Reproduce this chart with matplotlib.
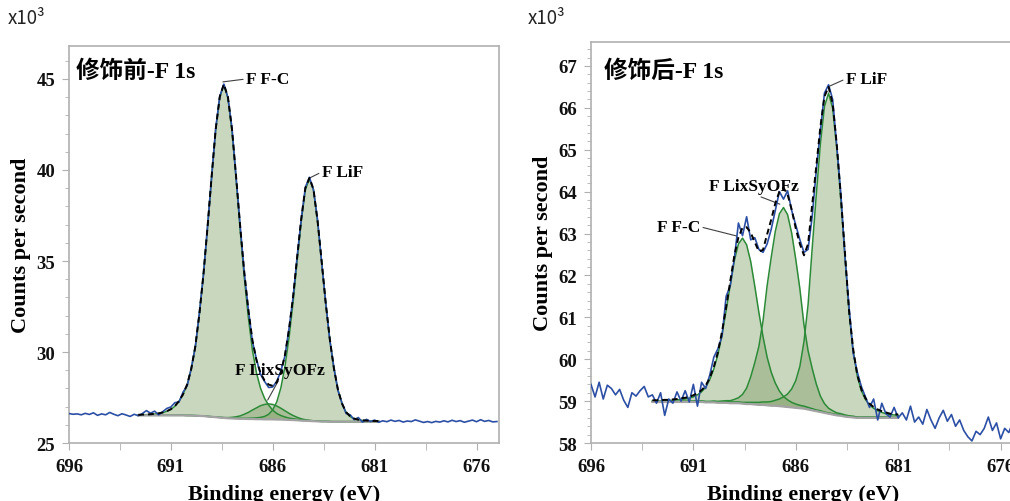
import numpy as np
import matplotlib
matplotlib.use('Agg')
import matplotlib.pyplot as plt
from matplotlib.ticker import MultipleLocator

plt.rcParams['font.family'] = ['Liberation Serif', 'Noto Sans CJK SC']
plt.rcParams['font.weight'] = 'bold'

# ---------------- data: before modification (left) ----------------
left_e_raw = np.round(696.0 - 0.2 * np.arange(106), 1)
left_raw = [26.62, 26.58, 26.60, 26.55, 26.63, 26.57, 26.66, 26.52, 26.60, 26.55,
            26.68, 26.58, 26.50, 26.61, 26.54, 26.46, 26.58,
            26.50, 26.62, 26.78, 26.64, 26.75, 26.55, 26.72, 26.90, 26.98, 27.22,
            27.25, 27.80, 28.15, 29.10, 30.28, 32.15, 34.25, 36.90, 39.60, 42.28,
            44.05, 44.72, 43.98, 42.30, 39.60, 36.95, 34.38, 32.36, 30.60, 29.60,
            28.78, 28.38, 28.05, 28.08, 28.40, 28.95, 29.80, 31.30, 33.02, 35.28,
            37.30, 39.05, 39.60, 38.90, 37.25, 34.92, 32.70, 30.65, 29.15, 27.88,
            27.20, 26.62, 26.55, 26.28, 26.40, 26.15, 26.30, 26.18, 26.26, 26.14,
            26.22, 26.17, 26.26, 26.19, 26.24, 26.15, 26.21, 26.18, 26.27, 26.20,
            26.13, 26.18, 26.12, 26.19, 26.15, 26.22, 26.16, 26.25, 26.18, 26.23,
            26.14, 26.20, 26.26, 26.17, 26.28, 26.19, 26.24, 26.16, 26.18]

left_e_fit = np.round(692.6 - 0.2 * np.arange(60), 1)
left_bg = [26.52] * 11 + [26.52, 26.51, 26.51, 26.50,
           26.49, 26.48, 26.46, 26.44, 26.42, 26.40, 26.38, 26.36, 26.35, 26.34, 26.33,
           26.33, 26.32, 26.32, 26.31, 26.31, 26.30, 26.30, 26.30, 26.29, 26.29,
           26.28, 26.27, 26.26, 26.25, 26.23, 26.22, 26.21, 26.20, 26.19, 26.18, 26.18, 26.17] + [26.17] * 12
left_fc = [0.02, 0.03, 0.04, 0.05, 0.07, 0.10, 0.15, 0.22, 0.33, 0.5, 0.78, 1.15, 1.7, 2.55,
           3.8, 5.6, 7.8, 10.4, 13.2, 15.8, 17.6, 18.3, 17.6, 15.8, 13.2, 10.4, 7.8, 5.6,
           3.8, 2.55, 1.7, 1.15, 0.78, 0.5, 0.33, 0.22, 0.15, 0.1, 0.07, 0.05, 0.04, 0.03,
           0.02] + [0.02] * 5 + [0.01] * 12
left_lix = [0.0] * 20 + [0.01, 0.02, 0.035, 0.06, 0.10, 0.16, 0.25, 0.36, 0.49, 0.62, 0.74,
                         0.82, 0.85, 0.82, 0.74, 0.62, 0.49, 0.36, 0.25, 0.16, 0.10, 0.06,
                         0.035, 0.02, 0.01] + [0.0] * 15
left_lif = [0.01] * 22 + [0.02, 0.02, 0.02, 0.03, 0.03, 0.04, 0.05, 0.07, 0.1, 0.16, 0.28,
                          0.52, 0.98, 1.75, 2.93, 4.52, 6.48, 8.78, 10.97, 12.7, 13.3, 12.7,
                          10.97, 8.78, 6.48, 4.52, 2.93, 1.75, 0.98, 0.52, 0.28, 0.16, 0.1,
                          0.07, 0.05, 0.04, 0.03, 0.03]

# ---------------- data: after modification (right) ----------------
right_e_raw = np.round(696.0 - 0.2 * np.arange(105), 1)
right_raw = [59.40, 59.10, 59.45, 59.05, 59.38, 59.30, 59.15, 59.28, 59.02, 58.85,
             59.20, 59.12, 59.25, 59.35, 59.10,
             59.15, 58.95, 59.20, 58.66, 59.05, 58.95, 59.22, 59.00, 59.25, 58.98,
             59.40, 58.88, 59.45, 59.30, 59.62, 60.05, 60.25, 60.55, 61.50, 61.75,
             62.40, 63.25, 62.95, 63.40, 62.85, 62.90, 62.62, 62.55, 62.75, 63.10,
             63.55, 64.00, 63.82, 64.02, 63.55, 63.20, 62.85, 62.55, 62.62, 63.40,
             64.50, 65.45, 66.35, 66.55, 66.20, 65.10, 63.95, 62.45, 61.25, 60.15,
             59.70, 59.35, 59.10, 58.85, 59.05, 58.55, 58.95, 58.70, 58.62, 58.85,
             58.60,
             58.72, 58.55, 58.88, 58.50, 58.62, 58.45, 58.80, 58.55, 58.35, 58.60,
             58.78, 58.52, 58.68, 58.40, 58.55, 58.30, 58.15, 58.05, 58.28, 58.20,
             58.35, 58.62, 58.30, 58.48, 58.10, 58.35, 58.25, 58.50, 58.40]

right_e_fit = np.round(693.0 - 0.2 * np.arange(61), 1)
right_bg = [58.98] * 13 + [58.97] * 3 + [58.96] * 3 + [58.95] * 3 + [
    58.94, 58.93, 58.93, 58.92, 58.91, 58.91, 58.90, 58.89, 58.89, 58.88, 58.87, 58.86,
    58.85, 58.84, 58.83, 58.82, 58.80, 58.78, 58.76, 58.74, 58.72, 58.70, 58.68, 58.66,
    58.65, 58.63, 58.62, 58.61] + [58.60] * 11
right_fc = [0.02, 0.02, 0.02, 0.03, 0.03, 0.04, 0.05, 0.06, 0.07, 0.09, 0.12, 0.17, 0.24,
            0.36, 0.54, 0.80, 1.15, 1.63, 2.20, 2.82, 3.40, 3.80, 3.95, 3.80, 3.40, 2.82,
            2.20, 1.63, 1.15, 0.80, 0.54, 0.36, 0.24, 0.17, 0.12, 0.09, 0.07, 0.06, 0.05,
            0.04, 0.03, 0.03, 0.02] + [0.02] * 4 + [0.01] * 14
right_lix = [0.01] * 7 + [0.02] * 8 + [0.03, 0.03, 0.04, 0.05, 0.06, 0.09, 0.13, 0.22, 0.38,
                                       0.65, 1.0, 1.4, 2.0, 2.85, 3.54, 4.16, 4.59, 4.75,
                                       4.59, 4.16, 3.54, 2.85, 2.0, 1.4, 1.0, 0.65, 0.38,
                                       0.22, 0.13, 0.09, 0.06, 0.05, 0.04, 0.03, 0.03] + [0.02] * 8 + [0.01] * 3
right_lif = [0.01] * 10 + [0.02] * 6 + [0.03] * 7 + [
    0.04, 0.04, 0.05, 0.06, 0.07, 0.08, 0.10, 0.13, 0.17, 0.23, 0.31, 0.44, 0.65, 1.0, 1.6,
    2.5, 3.86, 5.16, 6.39, 7.31, 7.65, 7.31, 6.39, 5.16, 3.86, 2.5, 1.6, 1.0, 0.65, 0.44,
    0.31, 0.23, 0.17, 0.13, 0.10, 0.08, 0.07, 0.06]

FILL = '#80a066'
GREEN = '#2b8a37'
BLUE = '#2c4fa6'
GRAYLINE = '#a3a3a3'
SPINE = '#b0b0b0'


def draw_panel(ax, e_raw, raw, e_fit, bg, comps):
    bg = np.array(bg)
    env = bg.copy()
    for c in comps:
        c = np.array(c)
        env = env + c
        ax.fill_between(e_fit, bg, bg + c, color=FILL, alpha=0.42, lw=0, zorder=1)
    for c in comps:
        ax.plot(e_fit, bg + np.array(c), color=GREEN, lw=1.1, zorder=2)
    ax.plot(e_fit, bg, color=GRAYLINE, lw=1.6, zorder=3)
    ax.plot(e_raw, raw, color=BLUE, lw=1.2, zorder=4)
    ax.plot(e_fit, env, color='black', lw=1.4, ls=(0, (3, 2)), zorder=5)

    for s in ax.spines.values():
        s.set_color(SPINE)
        s.set_linewidth(1.2)
    ax.set_xticks([696, 691, 686, 681, 676])
    ax.set_xticks([693.5, 688.5, 683.5, 678.5], minor=True)
    ax.tick_params(axis='both', which='both', direction='out', color=SPINE,
                   labelsize=13.5, labelcolor='#111111')
    ax.tick_params(axis='x', which='both', length=5, pad=6)
    ax.tick_params(axis='y', which='major', length=5, pad=5)
    ax.tick_params(axis='y', which='minor', length=3)
    ax.set_xlabel('Binding energy (eV)', fontsize=16, fontweight='bold', labelpad=6)
    ax.set_ylabel('Counts per second', fontsize=16, fontweight='bold', labelpad=4)


fig = plt.figure(figsize=(10.1, 5.02), dpi=100)
ax1 = fig.add_axes([0.0683, 0.1155, 0.4257, 0.7908])
ax2 = fig.add_axes([0.5851, 0.1155, 0.4198, 0.7988])

draw_panel(ax1, left_e_raw, left_raw, left_e_fit, left_bg, [left_fc, left_lix, left_lif])
ax1.set_xlim(696, 674.9)
ax1.set_ylim(25, 46.81)
ax1.yaxis.set_major_locator(MultipleLocator(5))
ax1.yaxis.set_minor_locator(MultipleLocator(1))

draw_panel(ax2, right_e_raw, right_raw, right_e_fit, right_bg, [right_fc, right_lix, right_lif])
ax2.set_xlim(696, 675.3)
ax2.set_ylim(58, 67.57)
ax2.yaxis.set_major_locator(MultipleLocator(1))
ax2.yaxis.set_minor_locator(MultipleLocator(0.2))

# panel titles
ax1.text(0.016, 0.937, '修饰前-F 1s', transform=ax1.transAxes, fontsize=17,
         fontweight='bold', ha='left', va='center')
ax2.text(0.031, 0.928, '修饰后-F 1s', transform=ax2.transAxes, fontsize=17,
         fontweight='bold', ha='left', va='center')

# peak labels
arrow = dict(arrowstyle='-', color='#404040', lw=0.8, shrinkA=0, shrinkB=0)
ax1.annotate('F F-C', xy=(688.45, 44.84), xytext=(687.32, 45.0), fontsize=12.5,
             ha='left', va='center', arrowprops=dict(arrow, relpos=(0, 0.5)))
ax1.annotate('F LiF', xy=(684.19, 39.56), xytext=(683.6, 39.89), fontsize=12.5,
             ha='left', va='center', arrowprops=dict(arrow, relpos=(0, 0.5)))
ax1.annotate('F LixSyOFz', xy=(686.25, 27.36), xytext=(687.86, 29.0), fontsize=12.5,
             ha='left', va='center', arrowprops=dict(arrow, relpos=(0.5, 0)))
ax2.annotate('F LiF', xy=(684.34, 66.52), xytext=(683.56, 66.69), fontsize=12.5,
             ha='left', va='center', arrowprops=dict(arrow, relpos=(0, 0.5)))
ax2.annotate('F LixSyOFz', xy=(686.78, 63.70), xytext=(690.24, 64.13), fontsize=12.5,
             ha='left', va='center', arrowprops=dict(arrow, relpos=(0.5, 0)))
ax2.annotate('F F-C', xy=(688.88, 62.94), xytext=(692.78, 63.16), fontsize=12.5,
             ha='left', va='center', arrowprops=dict(arrow, relpos=(1, 0.5)))

# scale multipliers
for xpos in (8 / 1010, 528 / 1010):
    fig.text(xpos, 1 - 18 / 502, 'x10³', fontsize=13.5, fontweight='normal',
             family=['Noto Sans CJK SC', 'DejaVu Sans'], color='#222222',
             ha='left', va='center')

fig.savefig('out.png', dpi=100)
